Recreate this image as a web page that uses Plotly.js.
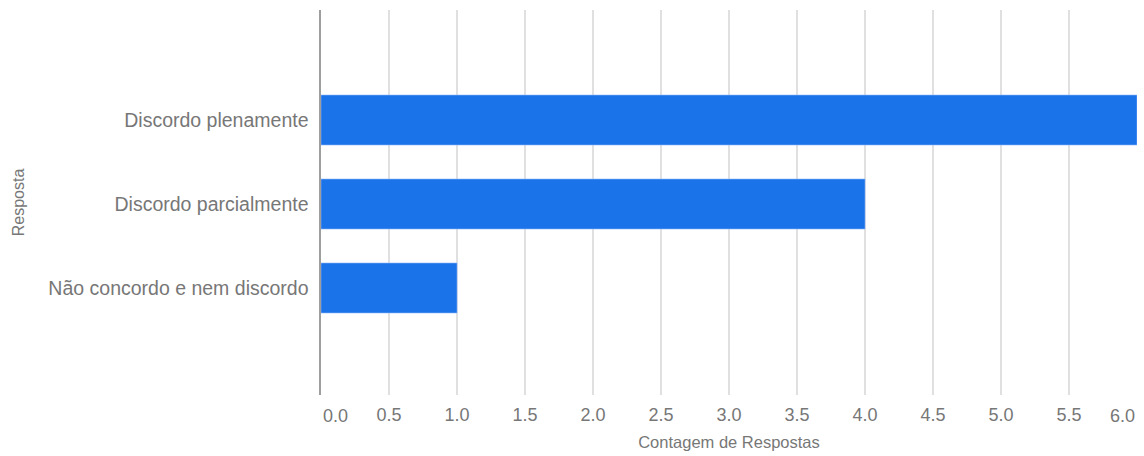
<!DOCTYPE html>
<html>
<head>
<meta charset="utf-8">
<script src="https://cdn.plot.ly/plotly-3.0.1.min.js"></script>
<style>html,body{margin:0;padding:0;background:#fff;}#chart{width:1144px;height:456px;}</style>
</head>
<body>
<div id="chart"></div>
<script>
const categories = ["Não concordo e nem discordo", "Discordo parcialmente", "Discordo plenamente"];
const counts = [1, 4, 6];
const xTickVals = [0.5, 1.0, 1.5, 2.0, 2.5, 3.0, 3.5, 4.0, 4.5, 5.0, 5.5];
const xTickText = ["0.5", "1.0", "1.5", "2.0", "2.5", "3.0", "3.5", "4.0", "4.5", "5.0", "5.5"];
const xEdgeVals = [0, 6];
const xEdgeText = ["0.0", "6.0"];

const fontFam = '"Liberation Sans", Arial, sans-serif';
const grey = '#777777';

const trace = {
  type: 'bar',
  orientation: 'h',
  x: counts,
  y: categories,
  marker: {color: '#1a73e8', line: {color: '#8ab4f8', width: 0.6}},
  hoverinfo: 'x+y'
};

const layout = {
  width: 1144,
  height: 456,
  margin: {l: 321, r: 7, t: 10, b: 61},
  paper_bgcolor: '#ffffff',
  plot_bgcolor: '#ffffff',
  bargap: 0.405,
  showlegend: false,
  font: {family: fontFam, color: grey},
  xaxis: {
    range: [0, 6],
    tickvals: xTickVals,
    ticktext: xTickText,
    tickfont: {size: 18, color: grey},
    showgrid: true,
    gridcolor: '#e0e0e0',
    gridwidth: 1.2,
    zeroline: false,
    showline: false,
    ticks: '',
    ticklabelstandoff: 7,
    title: {text: 'Contagem de Respostas', font: {size: 16.5, color: grey}, standoff: 12},
    fixedrange: true
  },
  yaxis: {
    type: 'category',
    categoryorder: 'array',
    categoryarray: categories,
    range: [-1.274, 3.31],
    tickfont: {size: 19.5, color: grey},
    showgrid: false,
    zeroline: false,
    showline: true,
    linecolor: '#9e9e9e',
    linewidth: 1.6,
    ticks: '',
    ticklabelstandoff: 7,
    title: {text: 'Resposta', font: {size: 16, color: grey}, standoff: 20},
    fixedrange: true
  },
  annotations: [
    {x: xEdgeVals[0], xref: 'x', y: 0, yref: 'paper', yshift: -21, text: xEdgeText[0], showarrow: false, xanchor: 'left', yanchor: 'middle', font: {size: 18, color: grey, family: fontFam}},
    {x: xEdgeVals[1], xref: 'x', y: 0, yref: 'paper', yshift: -21, text: xEdgeText[1], showarrow: false, xanchor: 'right', yanchor: 'middle', font: {size: 18, color: grey, family: fontFam}}
  ]
};

Plotly.newPlot('chart', [trace], layout, {displayModeBar: false, staticPlot: true});
</script>
</body>
</html>
